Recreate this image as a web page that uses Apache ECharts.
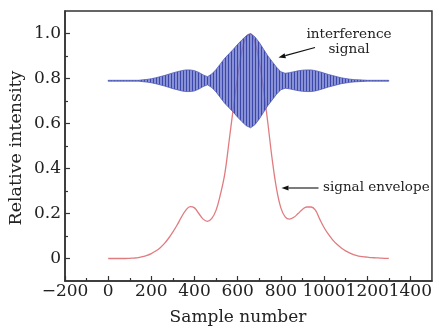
<!DOCTYPE html>
<html><head><meta charset="utf-8">
<script src="https://cdn.jsdelivr.net/npm/echarts@6/dist/echarts.min.js"></script>
<style>html,body{margin:0;padding:0;background:#fff}#c{width:435px;height:329px}</style>
</head><body><div id="c"></div>
<script>
const samples = [0,20,40,60,80,100,120,140,160,180,200,220,240,260,280,300,320,340,360,380,400,420,440,460,480,500,520,540,560,580,600,620,640,660,680,700,720,740,760,780,800,820,840,860,880,900,920,940,960,980,1000,1020,1040,1060,1080,1100,1120,1140,1160,1180,1200,1220,1240,1260,1280,1300];
const envelope = [0,0,0,0,0,0.001,0.002,0.004,0.008,0.014,0.022,0.033,0.047,0.066,0.09,0.118,0.15,0.185,0.215,0.231,0.225,0.2,0.175,0.165,0.178,0.215,0.285,0.375,0.52,0.67,0.81,0.925,0.985,0.998,0.96,0.875,0.75,0.6,0.44,0.31,0.225,0.185,0.175,0.183,0.2,0.218,0.229,0.229,0.215,0.175,0.138,0.108,0.083,0.063,0.047,0.034,0.024,0.016,0.011,0.008,0.006,0.004,0.003,0.002,0.001,0.001];
const interfUpper = [0.792,0.792,0.792,0.792,0.792,0.792,0.792,0.792,0.794,0.796,0.799,0.803,0.808,0.813,0.819,0.825,0.830,0.835,0.838,0.838,0.835,0.827,0.816,0.808,0.820,0.840,0.865,0.890,0.910,0.930,0.952,0.972,0.990,0.999,0.985,0.960,0.930,0.900,0.875,0.850,0.830,0.823,0.826,0.830,0.834,0.837,0.838,0.838,0.835,0.830,0.824,0.818,0.813,0.808,0.803,0.800,0.797,0.795,0.794,0.793,0.792,0.792,0.792,0.792,0.792,0.792];
const interfLower = [0.788,0.788,0.788,0.788,0.788,0.788,0.788,0.788,0.786,0.784,0.781,0.777,0.772,0.767,0.761,0.755,0.750,0.745,0.742,0.742,0.745,0.753,0.764,0.772,0.760,0.740,0.715,0.690,0.670,0.650,0.628,0.608,0.590,0.581,0.595,0.620,0.650,0.680,0.705,0.730,0.750,0.757,0.754,0.750,0.746,0.743,0.742,0.742,0.745,0.750,0.756,0.762,0.767,0.772,0.777,0.780,0.783,0.785,0.786,0.787,0.788,0.788,0.788,0.788,0.788,0.788];
const xTickLabels = [-200,0,200,400,600,800,1000,1200,1400];
const xMinorTicks = [-100,100,300,500,700,900,1100,1300];
const yTickLabels = [0,0.2,0.4,0.6,0.8,1.0];
const yMinorTicks = [0.1,0.3,0.5,0.7,0.9];

const FONT = '"DejaVu Serif", serif';
const chart = echarts.init(document.getElementById('c'), null, {renderer:'canvas'});

const envData = samples.map((x,i)=>[x, envelope[i]]);
const bandData = samples.map((x,i)=>[x, interfUpper[i], interfLower[i]]);

// fringe texture (style only)
const pat = document.createElement('canvas');
pat.width = 3; pat.height = 4;
const pctx = pat.getContext('2d');
pctx.fillStyle = 'rgba(104,114,202,0.78)'; pctx.fillRect(0,0,3,4);
pctx.clearRect(0,0,1,4);
pctx.fillStyle = '#3c48a9'; pctx.fillRect(0,0,1,4);

function arrow(x1,y1,x2,y2){
  const dx=x2-x1, dy=y2-y1, L=Math.hypot(dx,dy), ux=dx/L, uy=dy/L;
  const hl=7, hw=2.6;
  const bx=x2-ux*hl, by=y2-uy*hl;
  return [
    {type:'line', shape:{x1:x1,y1:y1,x2:bx,y2:by}, style:{stroke:'#111', lineWidth:1.1}},
    {type:'polygon', shape:{points:[[x2,y2],[bx-uy*hw,by+ux*hw],[bx+uy*hw,by-ux*hw]]}, style:{fill:'#111'}}
  ];
}

function renderBand(params, api){
  if (params.dataIndex !== 0) return null;
  const up = [], lo = [];
  for (let i=0;i<bandData.length;i++){
    up.push(api.coord([bandData[i][0], bandData[i][1]]));
    lo.push(api.coord([bandData[i][0], bandData[i][2]]));
  }
  const pts = up.concat(lo.reverse());
  return {type:'polygon', shape:{points:pts},
    style:{fill:{image:pat, repeat:'repeat'}, stroke:'rgba(74,86,180,0.85)', lineWidth:0.9}};
}

const axisLineStyle = {color:'#333', width:1.5};
chart.setOption({
  animation:false,
  backgroundColor:'#fff',
  grid:{left:65,right:3,top:11,bottom:48,show:true,borderColor:'#333',borderWidth:1.5,backgroundColor:'transparent'},
  xAxis:[
    {type:'value',min:-200,max:1500,position:'bottom',
     axisLine:{onZero:false,lineStyle:axisLineStyle},
     splitLine:{show:false},
     axisTick:{inside:true,length:5,lineStyle:{color:'#333',width:1.2},customValues:xTickLabels},
     axisLabel:{customValues:xTickLabels,margin:2,color:'#222',fontFamily:FONT,fontSize:17,
       formatter:v=> v<0 ? '\u2212'+Math.abs(v) : String(v)}},
    {type:'value',min:-200,max:1500,position:'bottom',
     axisLine:{show:false,onZero:false},splitLine:{show:false},axisLabel:{show:false},
     axisTick:{inside:true,length:3,lineStyle:{color:'#333',width:1.2},customValues:xMinorTicks}}
  ],
  yAxis:[
    {type:'value',min:-0.1,max:1.1,position:'left',
     axisLine:{show:true,onZero:false,lineStyle:axisLineStyle},
     splitLine:{show:false},
     axisTick:{show:true,inside:true,length:5,lineStyle:{color:'#333',width:1.2},customValues:yTickLabels},
     axisLabel:{customValues:yTickLabels,margin:4,color:'#222',fontFamily:FONT,fontSize:17,
       formatter:v=> v===0 ? '0' : v.toFixed(1)}},
    {type:'value',min:-0.1,max:1.1,position:'left',
     axisLine:{show:false,onZero:false},splitLine:{show:false},axisLabel:{show:false},
     axisTick:{show:true,inside:true,length:3,lineStyle:{color:'#333',width:1.2},customValues:yMinorTicks}}
  ],
  series:[
    {name:'signal envelope',type:'line',data:envData,smooth:0.4,showSymbol:false,z:2,
     lineStyle:{color:'#e07c80',width:1.3}},
    {name:'interference signal',type:'custom',data:bandData,renderItem:renderBand,z:3,
     encode:{x:0,y:[1,2]},clip:true}
  ],
  graphic:[
    {type:'text',x:16,y:148,rotation:Math.PI/2,style:{text:'Relative intensity',font:'17.5px '+FONT,fill:'#222',align:'center',verticalAlign:'middle'}},
    {type:'text',x:238,y:318,style:{text:'Sample number',font:'17px '+FONT,fill:'#222',align:'center',verticalAlign:'middle'}},
    {type:'text',x:349,y:34,style:{text:'interference',font:'13.6px '+FONT,fill:'#222',align:'center',verticalAlign:'middle'}},
    {type:'text',x:349,y:49,style:{text:'signal',font:'13.6px '+FONT,fill:'#222',align:'center',verticalAlign:'middle'}},
    {type:'text',x:323,y:187,style:{text:'signal envelope',font:'13.5px '+FONT,fill:'#222',align:'left',verticalAlign:'middle'}},
    ...arrow(315,47.5,278.5,57.5),
    ...arrow(318.5,188,281.5,188)
  ]
});
</script>
</body></html>
